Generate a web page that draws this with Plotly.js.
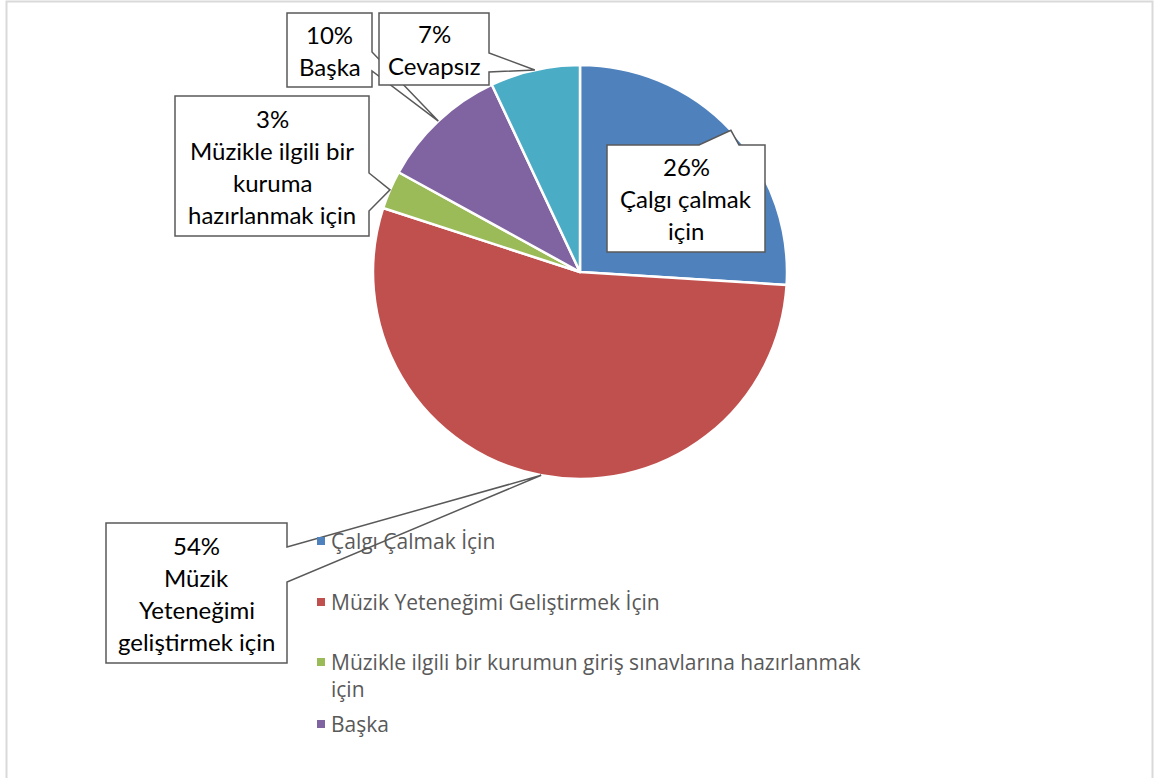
<!DOCTYPE html>
<html><head><meta charset="utf-8">
<script src="https://cdn.plot.ly/plotly-3.0.1.min.js"></script>
<style>html,body{margin:0;padding:0;background:#fff}#chart{width:1155px;height:778px}</style>
</head><body><div id="chart"></div>
<script>
// ---- data ----
const legendLabels = [
  'Çalgı Çalmak İçin',
  'Müzik Yeteneğimi Geliştirmek İçin',
  'Müzikle ilgili bir kurumun giriş sınavlarına hazırlanmak<br>için',
  'Başka',
  'Cevapsız'
];
const calloutLabels = [
  'Çalgı çalmak<br>için',
  'Müzik<br>Yeteneğimi<br>geliştirmek için',
  'Müzikle ilgili bir<br>kuruma<br>hazırlanmak için',
  'Başka',
  'Cevapsız'
];
const values = [26, 54, 3, 10, 7];
const colors = ['#4F81BD', '#C0504D', '#9BBB59', '#8064A2', '#4BACC6'];

// ---- layout constants (pixels) ----
const W = 1155, H = 778;
const CX = 580, CY = 272, R = 207;
const FONT = 'Lato, "Open Sans", sans-serif';
const LEGFONT = '"Open Sans", "Noto Sans", sans-serif';
const callouts = [
  {box: [607, 145, 765, 252], side: 'top',   base: [699, 739]},
  {box: [106, 523, 287, 663], side: 'right', base: [547, 582]},
  {box: [175, 96, 369, 236],  side: 'right', base: [173, 211]},
  {box: [287, 13, 372, 87],   side: 'right', base: [52, 71]},
  {box: [379, 13, 489, 85],   side: 'right', base: [53, 72]}
];
const legendY = [541, 602, 662, 724];
const LINE = 32;

const total = values.reduce((a, b) => a + b, 0);
const shapes = [];
const annotations = [];

// frame
shapes.push({type: 'rect', xref: 'x', yref: 'y', x0: 6.5, y0: 1.5, x1: 1152.5, y1: 800,
  line: {color: '#d9d9d9', width: 2}, fillcolor: 'rgba(0,0,0,0)', layer: 'below'});

// callouts
let cum = 0;
values.forEach((v, i) => {
  const mid = (cum + v / 2) / total * 2 * Math.PI;
  cum += v;
  const tx = CX + R * Math.sin(mid), ty = CY - R * Math.cos(mid);
  const c = callouts[i];
  const [x0, y0, x1, y1] = c.box;
  let pts;
  if (c.side === 'top') {
    pts = [[x0, y0], [c.base[0], y0], [tx, ty], [c.base[1], y0], [x1, y0], [x1, y1], [x0, y1]];
  } else {
    pts = [[x0, y0], [x1, y0], [x1, c.base[0]], [tx, ty], [x1, c.base[1]], [x1, y1], [x0, y1]];
  }
  const path = 'M' + pts.map(p => p[0].toFixed(1) + ',' + p[1].toFixed(1)).join(' L') + ' Z';
  shapes.push({type: 'path', xref: 'x', yref: 'y', path: path, fillcolor: '#ffffff',
    line: {color: '#595959', width: 1.5}, layer: 'above'});
  const lines = [Math.round(v / total * 100) + '%'].concat(calloutLabels[i].split('<br>'));
  const cy = (y0 + y1) / 2, cxm = (x0 + x1) / 2;
  lines.forEach((t, k) => {
    annotations.push({xref: 'x', yref: 'y', x: cxm, y: cy + (k - (lines.length - 1) / 2) * LINE,
      text: t, showarrow: false, xanchor: 'center', yanchor: 'middle',
      font: {family: FONT, size: 24, color: '#000000'}});
  });
});

// legend (first four entries visible; the rest falls below the frame)
legendLabels.slice(0, legendY.length).forEach((lab, i) => {
  const y = legendY[i];
  shapes.push({type: 'rect', xref: 'x', yref: 'y', x0: 317, x1: 325, y0: y - 4, y1: y + 4,
    fillcolor: colors[i], line: {width: 0}, layer: 'above'});
  lab.split('<br>').forEach((t, k) => {
    annotations.push({xref: 'x', yref: 'y', x: 329, y: y + k * 27, text: t, showarrow: false,
      xanchor: 'left', yanchor: 'middle', font: {family: LEGFONT, size: 21, color: '#595959'}});
  });
});

const trace = {
  type: 'pie', values: values, labels: legendLabels, sort: false, direction: 'clockwise',
  rotation: 0, marker: {colors: colors, line: {color: '#ffffff', width: 2.5}},
  textinfo: 'none', hoverinfo: 'none', showlegend: false,
  domain: {x: [(CX - R) / W, (CX + R) / W], y: [(H - CY - R) / H, (H - CY + R) / H]}
};

const layout = {
  width: W, height: H, margin: {l: 0, r: 0, t: 0, b: 0},
  paper_bgcolor: '#ffffff', plot_bgcolor: 'rgba(0,0,0,0)', showlegend: false,
  xaxis: {range: [0, W], visible: false, fixedrange: true},
  yaxis: {range: [H, 0], visible: false, fixedrange: true},
  shapes: shapes, annotations: annotations
};
Plotly.newPlot('chart', [trace], layout, {displayModeBar: false, staticPlot: true});
</script></body></html>
